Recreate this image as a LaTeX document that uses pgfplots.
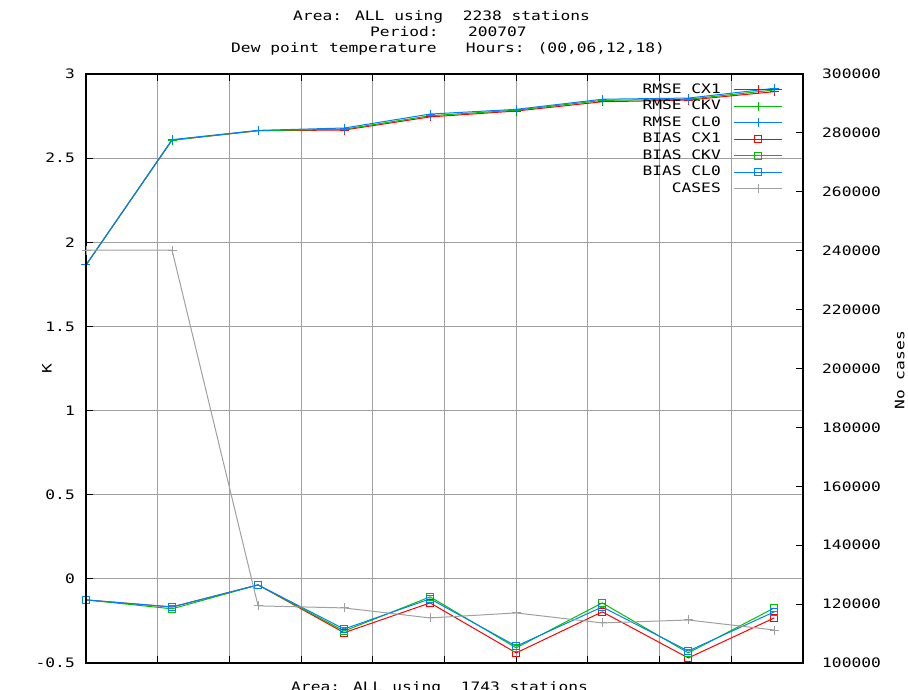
\documentclass[border=0pt]{standalone}
\usepackage{pgfplots}
\pgfplotsset{compat=1.18}
\usepackage{fontspec}
\newfontfamily\gp[FakeStretch=1.25]{DejaVu Sans Mono}
\newcommand\gpfont{\gp\fontsize{13pt}{15pt}\selectfont}
\definecolor{gpred}{RGB}{255,0,0}
\definecolor{gpgreen}{RGB}{0,192,0}
\definecolor{gpblue}{RGB}{0,128,255}
\definecolor{gpgray}{RGB}{160,160,160}
\begin{document}
\begin{tikzpicture}
\useasboundingbox (-86pt,-27pt) rectangle (822pt,663pt);
\begin{axis}[
  at={(0pt,0pt)}, anchor=south west,
  scale only axis, width=717pt, height=589pt,
  xmin=0, xmax=50, ymin=-0.5, ymax=3,
  xtick={0,5,...,50}, xticklabels={},
  ytick={-0.5,0,0.5,1,1.5,2,2.5,3},
  yticklabels={-0.5,0,0.5,1,1.5,2,2.5,3},
  ytick pos=left, xtick pos=both,
  tick align=inside, major tick length=7pt,
  tick style={black, line width=1pt},
  grid=major, grid style={gpgray, line width=1pt},
  axis line style={black, line width=1.3pt},
  ticklabel style={font=\gpfont},
  yticklabel style={anchor=east, inner sep=0pt, xshift=-11pt},
  ylabel={K}, ylabel style={font=\gpfont, at={(axis description cs:-0.0544,0.5)}, anchor=center},
  every axis plot/.append style={line width=1pt, mark options={solid}},
  clip=false,
]
\addplot[gpred, mark=+, mark size=4.5pt] coordinates {(0,1.865) (6,2.607) (12,2.663) (18,2.667) (24,2.745) (30,2.78) (36,2.835) (42,2.845) (48,2.895)};
\addplot[gpgreen, mark=+, mark size=4.5pt] coordinates {(0,1.865) (6,2.607) (12,2.663) (18,2.672) (24,2.752) (30,2.785) (36,2.843) (42,2.85) (48,2.905)};
\addplot[gpblue, mark=+, mark size=4.5pt] coordinates {(0,1.865) (6,2.610) (12,2.665) (18,2.679) (24,2.762) (30,2.79) (36,2.85) (42,2.857) (48,2.915)};
\addplot[gpred, mark=square, mark size=3.5pt] coordinates {(0,-0.125) (6,-0.167) (12,-0.036) (18,-0.32) (24,-0.143) (30,-0.44) (36,-0.196) (42,-0.47) (48,-0.232)};
\addplot[gpgreen, mark=square, mark size=3.5pt] coordinates {(0,-0.125) (6,-0.178) (12,-0.036) (18,-0.31) (24,-0.107) (30,-0.41) (36,-0.143) (42,-0.44) (48,-0.173)};
\addplot[gpblue, mark=square, mark size=3.5pt] coordinates {(0,-0.125) (6,-0.167) (12,-0.036) (18,-0.298) (24,-0.119) (30,-0.40) (36,-0.167) (42,-0.429) (48,-0.196)};
\end{axis}
\begin{axis}[
  at={(0pt,0pt)}, anchor=south west,
  scale only axis, width=717pt, height=589pt,
  xmin=0, xmax=50, ymin=100000, ymax=300000,
  hide x axis,
  ytick pos=right, yticklabel pos=right,
  ytick={100000,120000,140000,160000,180000,200000,220000,240000,260000,280000,300000},
  yticklabels={100000,120000,140000,160000,180000,200000,220000,240000,260000,280000,300000},
  scaled y ticks=false,
  tick align=inside, major tick length=7pt,
  tick style={black, line width=1pt},
  axis line style={black, line width=1.3pt},
  ticklabel style={font=\gpfont},
  yticklabel style={anchor=west, inner sep=0pt, xshift=19pt},
  ylabel={No cases}, ylabel style={font=\gpfont, at={(axis description cs:1.135,0.497)}, anchor=center, rotate=0},
  every axis plot/.append style={line width=1pt, mark options={solid}},
  legend plot pos=right,
  legend cell align=right,
  legend image code/.code={\draw[mark repeat=2,mark phase=2,#1] plot coordinates {(0pt,0pt) (24pt,0pt) (48pt,0pt)};},
  legend style={at={(axis description cs:0.9721,0.9847)}, anchor=north east, draw=none, fill=none, inner sep=0pt, font=\gpfont, row sep=3.5pt, column sep=13pt, nodes={inner sep=0pt, text height=10pt, text depth=3pt}},
  clip=false,
]
\addlegendimage{gpred, mark=+, mark size=4.5pt, line width=1pt}
\addlegendimage{gpgreen, mark=+, mark size=4.5pt, line width=1pt}
\addlegendimage{gpblue, mark=+, mark size=4.5pt, line width=1pt}
\addlegendimage{gpred, mark=square, mark size=3.5pt, line width=1pt}
\addlegendimage{gpgreen, mark=square, mark size=3.5pt, line width=1pt}
\addlegendimage{gpblue, mark=square, mark size=3.5pt, line width=1pt}
\addplot[gpgray, mark=+, mark size=4.5pt] coordinates {(0,240200) (6,240200) (12,119400) (18,118700) (24,115300) (30,117000) (36,113600) (42,114600) (48,111200)};
\legend{RMSE CX1, RMSE CKV, RMSE CL0, BIAS CX1, BIAS CKV, BIAS CL0, CASES}
\end{axis}
\node[anchor=base west, font=\gpfont, inner sep=0pt] at (207pt,642pt) {Area: ALL using~~2238 stations};
\node[anchor=base west, font=\gpfont, inner sep=0pt] at (284pt,626pt) {Period:~~~200707};
\node[anchor=base west, font=\gpfont, inner sep=0pt] at (145pt,610pt) {Dew point temperature~~~Hours: (00,06,12,18)};
\node[anchor=base west, font=\gpfont, inner sep=0pt] at (205pt,-29pt) {Area: ALL using~~1743 stations};
\end{tikzpicture}
\end{document}
